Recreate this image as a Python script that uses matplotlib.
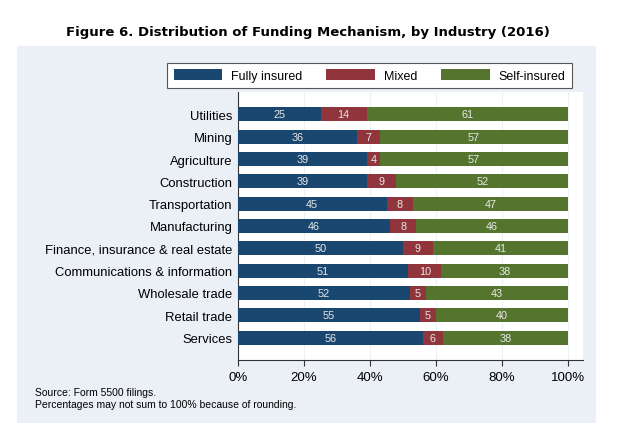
import matplotlib
matplotlib.use('Agg')
import matplotlib.pyplot as plt
from matplotlib.patches import Rectangle
import numpy as np

industries = ['Utilities', 'Mining', 'Agriculture', 'Construction', 'Transportation',
              'Manufacturing', 'Finance, insurance & real estate',
              'Communications & information', 'Wholesale trade', 'Retail trade', 'Services']
fully = [25, 36, 39, 39, 45, 46, 50, 51, 52, 55, 56]
mixed = [14, 7, 4, 9, 8, 8, 9, 10, 5, 5, 6]
self_ins = [61, 57, 57, 52, 47, 46, 41, 38, 43, 40, 38]
series_names = ['Fully insured', 'Mixed', 'Self-insured']
colors = ['#1a476f', '#90353b', '#55752f']
xticks = [0, 20, 40, 60, 80, 100]

plt.rcParams['font.family'] = ['Liberation Sans', 'DejaVu Sans']

fig = plt.figure(figsize=(6.28, 4.35), dpi=100)
fig.patch.set_facecolor('white')

# light graph region behind the plot
fig.patches.append(Rectangle((17 / 628, 1 - 424 / 435), (596 - 17) / 628, (424 - 47) / 435,
                             transform=fig.transFigure, facecolor='#ebf0f7',
                             edgecolor='none', zorder=-1))

fig.text(0.49, 1 - 32.5 / 435, 'Figure 6. Distribution of Funding Mechanism, by Industry (2016)',
         ha='center', va='center', fontsize=9.5, fontweight='bold', family='DejaVu Sans')

ax = fig.add_axes([238 / 628, 1 - 361 / 435, (583 - 238) / 628, (361 - 93) / 435])
ax.set_facecolor('white')

data = np.array([fully, mixed, self_ins], dtype=float)
shares = data / data.sum(axis=0) * 100
y = np.arange(len(industries))
left = np.zeros(len(industries))
for k in range(3):
    ax.barh(y, shares[k], left=left, height=0.62, color=colors[k],
            label=series_names[k], zorder=3)
    for i in range(len(industries)):
        ax.text(left[i] + shares[k][i] / 2, y[i], str(int(data[k][i])),
                ha='center', va='center', color='#e8e8e8', fontsize=7.8, zorder=4)
    left += shares[k]

ax.set_xlim(0, 104.5)
ax.set_ylim(len(industries), -1)
ax.set_yticks(y)
ax.set_yticklabels(industries, fontsize=9.4)
ax.set_xticks(xticks)
ax.set_xticklabels([f'{t}%' for t in xticks], fontsize=9.5)
ax.tick_params(axis='y', length=0, pad=4)
ax.tick_params(axis='x', length=4, color='#333333', pad=4)
ax.grid(axis='x', color='#edf1f5', linewidth=0.8, zorder=0)
for s in ['top', 'right']:
    ax.spines[s].set_visible(False)
for s in ['left', 'bottom']:
    ax.spines[s].set_color('#333333')
    ax.spines[s].set_linewidth(0.8)

leg = fig.legend(loc='center', bbox_to_anchor=(369.5 / 628, 1 - 76.5 / 435), ncol=3,
                 fontsize=9, frameon=True, fancybox=False, edgecolor='#555555',
                 handlelength=3.9, handleheight=1.0, columnspacing=1.9,
                 handletextpad=0.7, borderpad=0.5)
leg.get_frame().set_linewidth(0.8)
leg.get_frame().set_facecolor('white')
leg.get_frame().set_alpha(1)

fig.text(35 / 628, 1 - 393 / 435, 'Source: Form 5500 filings.', fontsize=7.5, va='center')
fig.text(35 / 628, 1 - 405 / 435, 'Percentages may not sum to 100% because of rounding.',
         fontsize=7.5, va='center')

fig.savefig('out.png', dpi=100, facecolor=fig.get_facecolor())
